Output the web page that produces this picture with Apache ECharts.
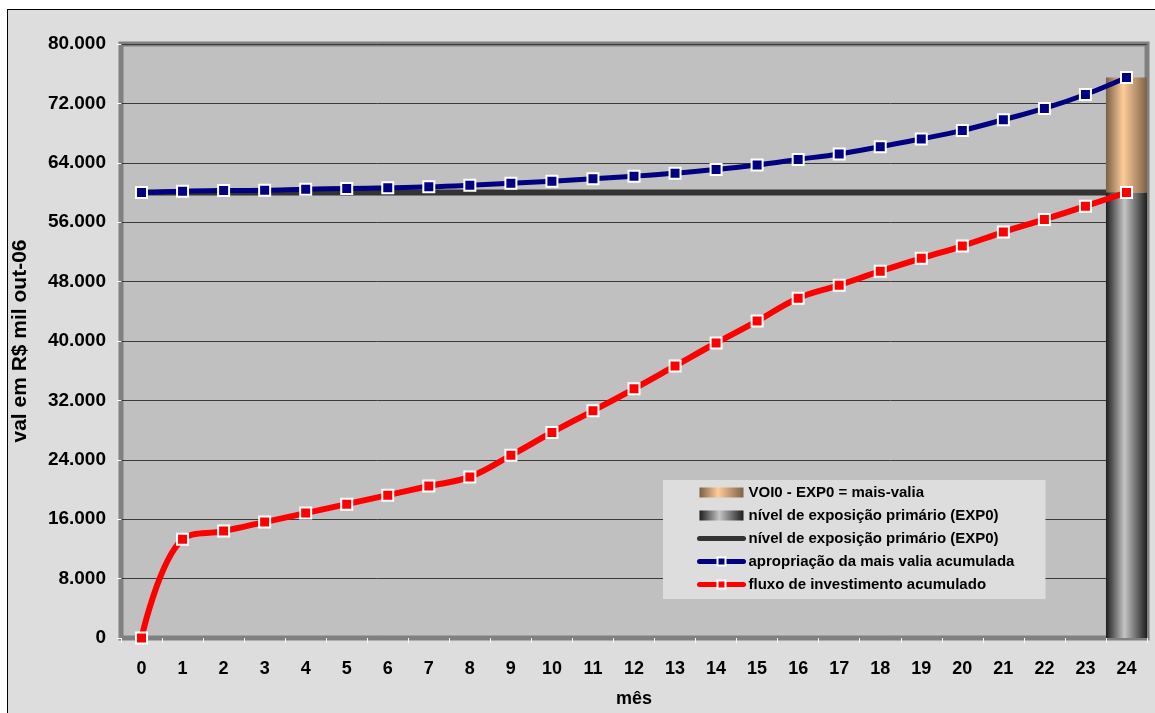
<!DOCTYPE html>
<html>
<head>
<meta charset="utf-8">
<script src="https://cdn.jsdelivr.net/npm/echarts@6/dist/echarts.min.js"></script>
<style>
html,body{margin:0;padding:0;background:#ffffff;width:1155px;height:713px;overflow:hidden;}
#frame{position:absolute;left:7px;top:9px;width:1170px;height:720px;border:1px solid #000;background:#dddddd;}
#chart{position:absolute;left:0;top:0;width:1155px;height:713px;}
</style>
</head>
<body>
<div id="frame"></div>
<div id="chart"></div>
<script>
// ---- data ----
const categories = ['0','1','2','3','4','5','6','7','8','9','10','11','12','13','14','15','16','17','18','19','20','21','22','23','24'];
const yTickLabels = ['0','8.000','16.000','24.000','32.000','40.000','48.000','56.000','64.000','72.000','80.000'];
const seriesNames = [
  'VOI0 - EXP0 = mais-valia',
  'nível de exposição primário (EXP0)',
  'nível de exposição primário (EXP0) ',
  'apropriação da mais valia acumulada',
  'fluxo de investimento acumulado'
];
const maisValiaBar = [null,null,null,null,null,null,null,null,null,null,null,null,null,null,null,null,null,null,null,null,null,null,null,null,15500];
const exp0Bar      = [null,null,null,null,null,null,null,null,null,null,null,null,null,null,null,null,null,null,null,null,null,null,null,null,60000];
const exp0Line     = [60000,60000,60000,60000,60000,60000,60000,60000,60000,60000,60000,60000,60000,60000,60000,60000,60000,60000,60000,60000,60000,60000,60000,60000,60000];
const apropriacao  = [60000,60180,60270,60310,60450,60540,60630,60760,60980,61250,61520,61850,62200,62600,63090,63710,64460,65190,66170,67200,68360,69800,71320,73200,75500];
const fluxo        = [0,13290,14400,15610,16820,18030,19240,20470,21700,24600,27690,30600,33560,36640,39730,42680,45770,47520,49400,51140,52790,54670,56380,58160,60000];

const FONT = 'Liberation Sans, Arial, sans-serif';
const chart = echarts.init(document.getElementById('chart'), null, {renderer:'canvas'});

const tanGrad = new echarts.graphic.LinearGradient(0,0,1,0,[
  {offset:0, color:'#7a5f46'},
  {offset:0.42, color:'#ffcc99'},
  {offset:1, color:'#7d6249'}
]);
const grayGrad = new echarts.graphic.LinearGradient(0,0,1,0,[
  {offset:0, color:'#1e1e1e'},
  {offset:0.45, color:'#c4c4c4'},
  {offset:1, color:'#1e1e1e'}
]);

chart.setOption({
  backgroundColor:'transparent',
  animation:false,
  grid:{left:121, right:8, top:44, bottom:73, show:true, backgroundColor:'#c0c0c0', borderColor:'#808080', borderWidth:5},
  legend:{
    orient:'vertical', left:663, top:480,
    backgroundColor:'#dddddd',
    padding:[5,31,7,34],
    itemGap:8, itemWidth:44, itemHeight:10,
    lineStyle:{width:5, cap:'round'},
    textStyle:{fontFamily:FONT, fontWeight:'bold', fontSize:15, color:'#000'},
    data:[
      {name:seriesNames[0], icon:'rect'},
      {name:seriesNames[1], icon:'rect'},
      {name:seriesNames[2], itemStyle:{color:'rgba(0,0,0,0)', borderColor:'rgba(0,0,0,0)', borderWidth:0}},
      {name:seriesNames[3]},
      {name:seriesNames[4]}
    ]
  },
  xAxis:{
    type:'category', data:categories, boundaryGap:true,
    name:'mês', nameLocation:'middle', nameGap:52,
    nameTextStyle:{fontFamily:FONT, fontWeight:'bold', fontSize:18, color:'#000'},
    axisLine:{show:true, lineStyle:{color:'#808080', width:1}},
    axisTick:{show:true, length:5, lineStyle:{color:'#ffffff'}},
    axisLabel:{fontFamily:FONT, fontWeight:'bold', fontSize:18, color:'#000', margin:22, interval:0},
    splitLine:{show:false}
  },
  yAxis:{
    type:'value', min:0, max:80000, interval:8000,
    name:'val em R$ mil out-06', nameLocation:'middle', nameGap:90,
    nameTextStyle:{fontFamily:FONT, fontWeight:'bold', fontSize:21, color:'#000'},
    axisLine:{show:true, lineStyle:{color:'#808080', width:1}},
    axisTick:{show:true, length:4, lineStyle:{color:'#ffffff'}},
    axisLabel:{fontFamily:FONT, fontWeight:'bold', fontSize:19, color:'#000', margin:15,
      formatter:function(v, i){ return yTickLabels[i]; }},
    splitLine:{show:true, lineStyle:{color:'#3a3a3a', width:1}}
  },
  series:[
    {name:seriesNames[1], type:'bar', stack:'b', data:exp0Bar, barWidth:'100%', z:3,
      itemStyle:{color:grayGrad}},
    {name:seriesNames[0], type:'bar', stack:'b', data:maisValiaBar, barWidth:'100%', z:3,
      itemStyle:{color:tanGrad}},
    {name:seriesNames[2], type:'line', data:exp0Line, symbol:'none', z:2,
      lineStyle:{color:'#333333', width:6, cap:'round'}, itemStyle:{color:'#333333'}},
    {name:seriesNames[3], type:'line', data:apropriacao, smooth:0.4, z:5,
      symbol:'rect', symbolSize:11,
      lineStyle:{color:'#000080', width:5, cap:'round'},
      itemStyle:{color:'#000080', borderColor:'#ffffff', borderWidth:2}},
    {name:seriesNames[4], type:'line', data:fluxo, smooth:0.4, z:5,
      symbol:'rect', symbolSize:11,
      lineStyle:{color:'#ff0000', width:6, cap:'round'},
      itemStyle:{color:'#ff0000', borderColor:'#ffffff', borderWidth:2}}
  ]
});
</script>
</body>
</html>
